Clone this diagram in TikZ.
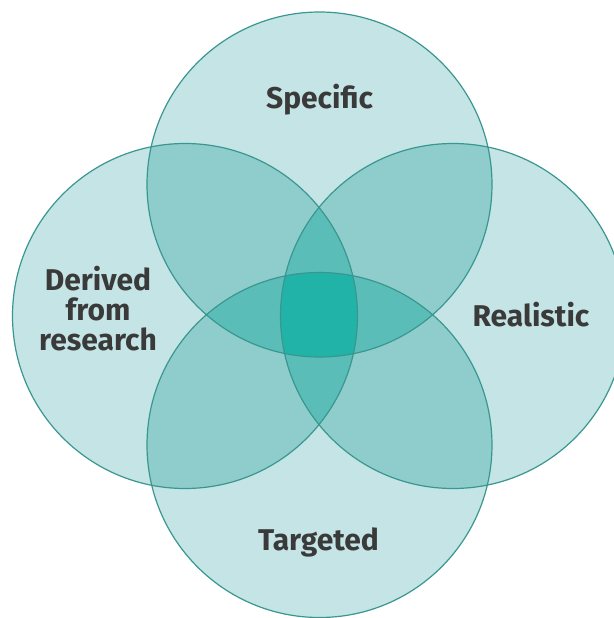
\documentclass[tikz,border=0pt]{standalone}
\usepackage{fontspec}
\setmainfont{Fira Sans}
\usepackage{tikz}

\definecolor{onecol}{HTML}{C4E4E5}
\definecolor{twocol}{HTML}{8FCDCD}
\definecolor{threecol}{HTML}{5BBDB7}
\definecolor{fourcol}{HTML}{22B3A8}
\definecolor{ringcol}{HTML}{3A9790}
\definecolor{labelcol}{HTML}{3A3A3A}

\tikzset{
  ring/.style={draw=ringcol, line width=0.9pt},
  label/.style={text=labelcol, font=\bfseries\fontsize{22.5}{24}\selectfont, align=center, anchor=base, inner sep=0pt}
}

\begin{document}
\begin{tikzpicture}[x=0.75pt, y=-0.75pt]
            \clip (0,0) rectangle (614,618);
            \def\rad{172.5}
            \coordinate (top) at (319.5,184.5);
            \coordinate (left) at (185,316);
            \coordinate (right) at (453,316);
            \coordinate (bot) at (319.5,445);
            % single circles
            \foreach \c in {top,left,right,bot}
              \fill[onecol] (\c) circle (\rad);
            % pairs
            \foreach \a/\b in {top/left,top/right,bot/left,bot/right,top/bot,left/right}{
              \begin{scope}
              \clip (\a) circle (\rad);
              \fill[twocol] (\b) circle (\rad);
              \end{scope}
            }
            % triples
            \foreach \a/\b/\c in {top/left/right,bot/left/right,top/bot/left,top/bot/right}{
              \begin{scope}
              \clip (\a) circle (\rad);
              \clip (\b) circle (\rad);
              \fill[threecol] (\c) circle (\rad);
              \end{scope}
            }
            % all four
            \begin{scope}
            \clip (top) circle (\rad);
            \clip (left) circle (\rad);
            \clip (right) circle (\rad);
            \fill[fourcol] (bot) circle (\rad);
            \end{scope}
            % outline
            \draw[ring] (top) circle (\rad) (left) circle (\rad)
                        (right) circle (\rad) (bot) circle (\rad);
            % labels
            \node[label] (spec) at (319.5,108) {Specific};
            \node[label] (real) at (531,326) {Realistic};
            \node[label] (targ) at (318.5,550) {Targeted};
            \node[label] (der1) at (98,290) {Derived};
            \node[label] (der2) at (98,320) {from};
            \node[label] (der3) at (98,350) {research};
        \end{tikzpicture}
\end{document}
